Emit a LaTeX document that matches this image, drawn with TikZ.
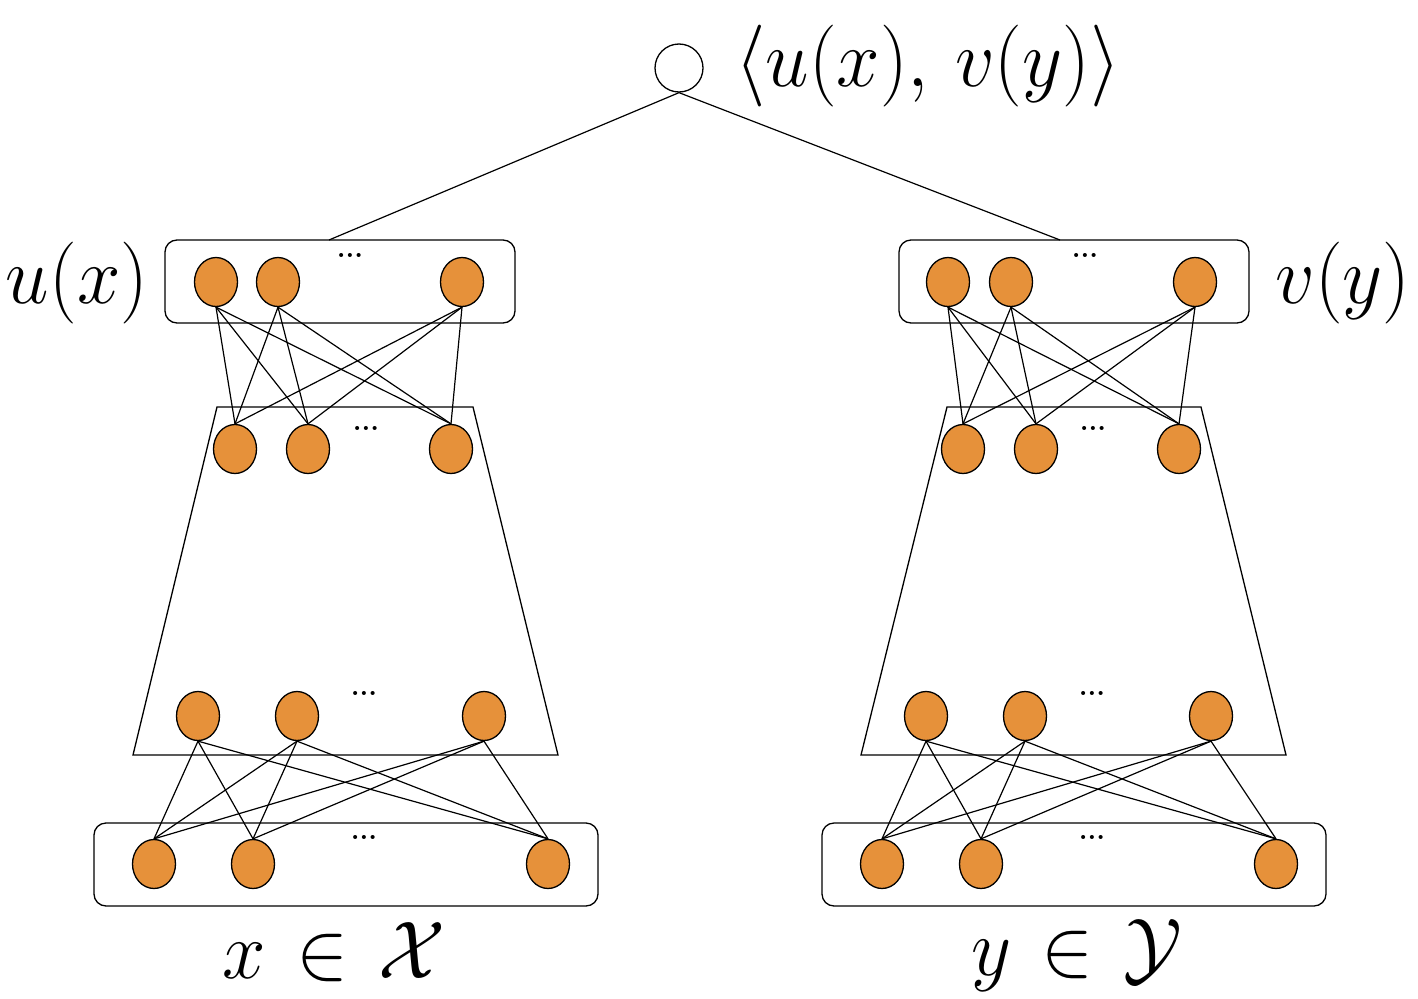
\RequirePackage{fix-cm}
\documentclass[tikz,border=0pt]{standalone}
\usetikzlibrary{shapes.geometric}
\definecolor{neuron}{RGB}{230,145,58}
\tikzset{
  unit/.style={ellipse, draw, line width=1.3pt, fill=neuron, minimum width=43pt, minimum height=49pt, inner sep=0pt},
  layerbox/.style={draw, rounded corners=12pt, line width=1.3pt, minimum height=83pt},
  wire/.style={line width=1.2pt},
  more/.style={inner sep=0pt, font=\fontsize{28}{28}\selectfont\bfseries},
  lbl/.style={inner sep=0pt, font=\fontsize{78}{78}\selectfont},
}
\newcommand{\tallmath}[1]{\scalebox{1}[1.05]{$#1$}}
\begin{document}
\begin{tikzpicture}[x=1pt,y=-1pt]
\useasboundingbox (0,0) rectangle (1418,998);
% output
\node[circle, draw, line width=1.3pt, minimum size=48pt, inner sep=0pt] (out) at (679,68) {};
\node[lbl] (pair) at (928,66) {\tallmath{\langle u(x),\, v(y)\rangle}};
% left tower
\node[layerbox, minimum width=350pt] (ubox) at (340,281.5) {};
\node[layerbox, minimum width=504pt] (xbox) at (346,864.5) {};
\draw[line width=1.3pt] (217,407) -- (473,407) -- (558,755) -- (133,755) -- cycle;
\coordinate (ulink) at (329,240);
\node[unit] (lu1) at (216,282) {};
\node[unit] (lu2) at (278,282) {};
\node[unit] (lu3) at (462,282) {};
\node[unit] (lh1) at (235,449) {};
\node[unit] (lh2) at (308,449) {};
\node[unit] (lh3) at (451,449) {};
\node[unit] (lg1) at (198,716) {};
\node[unit] (lg2) at (297,716) {};
\node[unit] (lg3) at (484,716) {};
\node[unit] (lx1) at (154,864) {};
\node[unit] (lx2) at (253,864) {};
\node[unit] (lx3) at (548,864) {};
\node[more] (ldots1) at (350,255) {...};
\node[more] (ldots2) at (366,428) {...};
\node[more] (ldots3) at (364,693) {...};
\node[more] (ldots4) at (364,837) {...};
\node[lbl] (ux) at (77,283) {\tallmath{u(x)}};
\node[lbl] (xin) at (334,952) {\tallmath{x\mkern2mu\in\mkern2mu\mathcal{X}}};
% right tower
\node[layerbox, minimum width=350pt] (vbox) at (1074,281.5) {};
\node[layerbox, minimum width=504pt] (ybox) at (1074,864.5) {};
\draw[line width=1.3pt] (947,407) -- (1201,407) -- (1286,755) -- (861,755) -- cycle;
\coordinate (vlink) at (1060,240);
\node[unit] (ru1) at (948,282) {};
\node[unit] (ru2) at (1011,282) {};
\node[unit] (ru3) at (1195,282) {};
\node[unit] (rh1) at (963,449) {};
\node[unit] (rh2) at (1036,449) {};
\node[unit] (rh3) at (1179,449) {};
\node[unit] (rg1) at (926,716) {};
\node[unit] (rg2) at (1025,716) {};
\node[unit] (rg3) at (1211,716) {};
\node[unit] (rx1) at (882,864) {};
\node[unit] (rx2) at (981,864) {};
\node[unit] (rx3) at (1276,864) {};
\node[more] (rdots1) at (1085,255) {...};
\node[more] (rdots2) at (1093,428) {...};
\node[more] (rdots3) at (1092,693) {...};
\node[more] (rdots4) at (1092,837) {...};
\node[lbl] (vy) at (1343,283) {\tallmath{v(y)}};
\node[lbl] (yin) at (1077,955) {\tallmath{y\mkern2mu\in\mkern2mu\mathcal{Y}}};
% connections
\draw[wire] (out.south) -- (ulink);
\draw[wire] (out.south) -- (vlink);
\foreach \a in {1,2,3}
  \foreach \b in {1,2,3} {
    \draw[wire] (lu\a.south) -- (lh\b.north);
    \draw[wire] (lg\a.south) -- (lx\b.north);
    \draw[wire] (ru\a.south) -- (rh\b.north);
    \draw[wire] (rg\a.south) -- (rx\b.north);
  }
\end{tikzpicture}
\end{document}
